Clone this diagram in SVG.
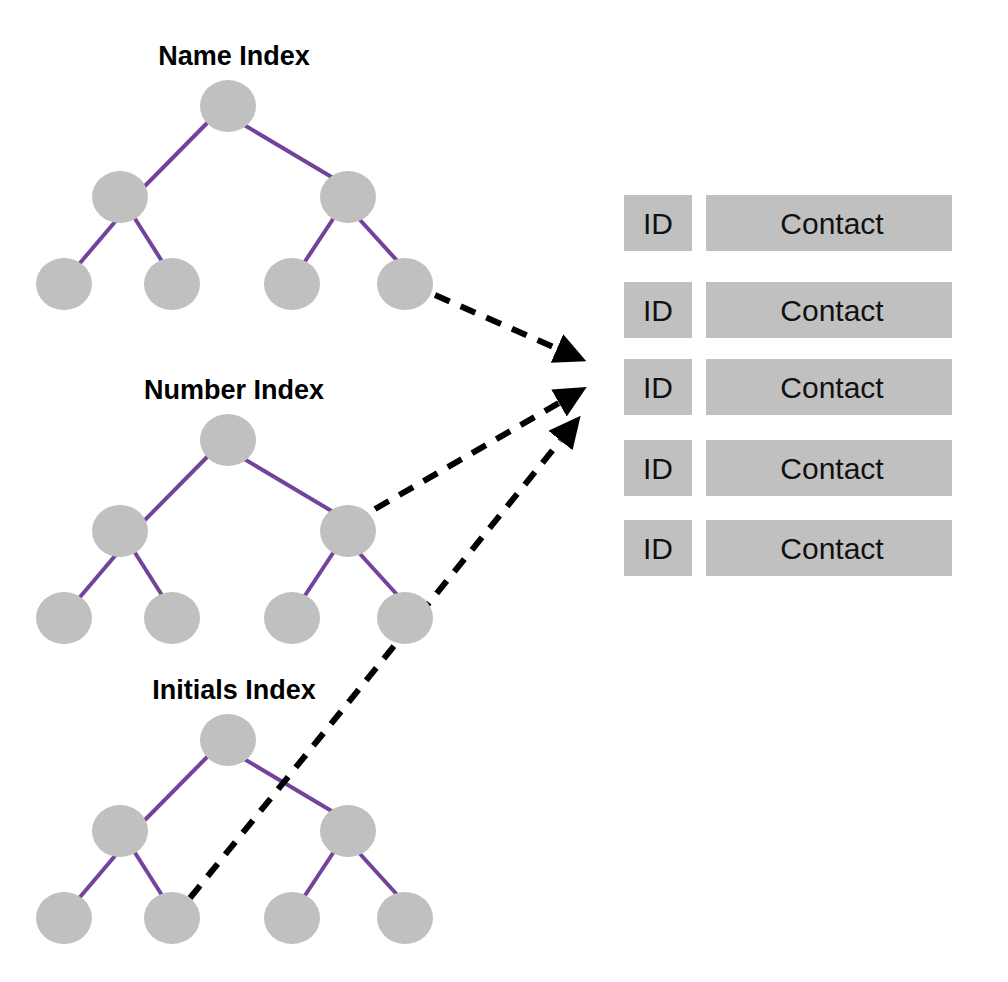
<svg xmlns="http://www.w3.org/2000/svg" width="1008" height="982" viewBox="0 0 1008 982">
<style>
.bg{fill:#ffffff}
.node{fill:#c0c0c0}
.edge{stroke:#73439b;stroke-width:4;fill:none}
.dash{stroke:#000;stroke-width:6;fill:none;stroke-dasharray:16 12}
.title{font-family:"Liberation Sans",Arial,sans-serif;font-weight:bold;font-size:27px;fill:#000;text-anchor:middle}
.cell{fill:#c0c0c0}
.ct{font-family:"Liberation Sans",Arial,sans-serif;font-size:30px;fill:#111;text-anchor:middle}
</style>
<defs>
<marker id="ah" markerUnits="userSpaceOnUse" markerWidth="34" markerHeight="32" refX="0" refY="15.5" orient="auto" viewBox="0 0 34 32">
<path d="M0,0 L32,15.5 L0,31 Z" fill="#000"/>
</marker>
<g id="treeEdges">
<line x1="214" y1="116" x2="138" y2="193"/>
<line x1="240" y1="122.5" x2="340" y2="182"/>
<line x1="117" y1="219.5" x2="76" y2="267.7"/>
<line x1="132" y1="214" x2="165" y2="266"/>
<line x1="336" y1="214.5" x2="302" y2="266"/>
<line x1="356" y1="215.5" x2="401" y2="265"/>
</g>
</defs>
<rect class="bg" x="0" y="0" width="1008" height="982"/>

<g id="titles">
<text class="title" x="234" y="65">Name Index</text>
<text class="title" x="234" y="399">Number Index</text>
<text class="title" x="234" y="699">Initials Index</text>
</g>

<g id="connectors">
<g class="edge" id="name-edges"><use href="#treeEdges"/></g>
<g class="edge" id="number-edges" transform="translate(0,334)"><use href="#treeEdges"/></g>
<g class="edge" id="initials-edges" transform="translate(0,634)"><use href="#treeEdges"/></g>
<path id="arrow-name" class="dash" d="M435,295 L557,348.5" marker-end="url(#ah)"/>
<path id="arrow-number" class="dash" d="M375,509 L559,403" marker-end="url(#ah)"/>
<path id="arrow-initials" class="dash" d="M190,898 L560.5,440.5" marker-end="url(#ah)"/>
</g>

<g id="name-tree">
<g id="name-root"><ellipse class="node" cx="228" cy="106" rx="28" ry="26"/></g>
<g id="name-l"><ellipse class="node" cx="120" cy="197" rx="28" ry="26"/></g>
<g id="name-r"><ellipse class="node" cx="348" cy="197" rx="28" ry="26"/></g>
<g id="name-ll"><ellipse class="node" cx="64" cy="284" rx="28" ry="26"/></g>
<g id="name-lr"><ellipse class="node" cx="172" cy="284" rx="28" ry="26"/></g>
<g id="name-rl"><ellipse class="node" cx="292" cy="284" rx="28" ry="26"/></g>
<g id="name-rr"><ellipse class="node" cx="405" cy="284" rx="28" ry="26"/></g>
</g>

<g id="number-tree">
<g id="number-root"><ellipse class="node" cx="228" cy="440" rx="28" ry="26"/></g>
<g id="number-l"><ellipse class="node" cx="120" cy="531" rx="28" ry="26"/></g>
<g id="number-r"><ellipse class="node" cx="348" cy="531" rx="28" ry="26"/></g>
<g id="number-ll"><ellipse class="node" cx="64" cy="618" rx="28" ry="26"/></g>
<g id="number-lr"><ellipse class="node" cx="172" cy="618" rx="28" ry="26"/></g>
<g id="number-rl"><ellipse class="node" cx="292" cy="618" rx="28" ry="26"/></g>
<g id="number-rr"><ellipse class="node" cx="405" cy="618" rx="28" ry="26"/></g>
</g>

<g id="initials-tree">
<g id="initials-root"><ellipse class="node" cx="228" cy="740" rx="28" ry="26"/></g>
<g id="initials-l"><ellipse class="node" cx="120" cy="831" rx="28" ry="26"/></g>
<g id="initials-r"><ellipse class="node" cx="348" cy="831" rx="28" ry="26"/></g>
<g id="initials-ll"><ellipse class="node" cx="64" cy="918" rx="28" ry="26"/></g>
<g id="initials-lr"><ellipse class="node" cx="172" cy="918" rx="28" ry="26"/></g>
<g id="initials-rl"><ellipse class="node" cx="292" cy="918" rx="28" ry="26"/></g>
<g id="initials-rr"><ellipse class="node" cx="405" cy="918" rx="28" ry="26"/></g>
</g>

<g id="table">
<g id="row1">
<rect class="cell" x="624" y="195" width="68" height="56"/>
<rect class="cell" x="706" y="195" width="246" height="56"/>
<text class="ct" x="658" y="233.5">ID</text>
<text class="ct" x="832" y="233.5">Contact</text>
</g>
<g id="row2">
<rect class="cell" x="624" y="282" width="68" height="56"/>
<rect class="cell" x="706" y="282" width="246" height="56"/>
<text class="ct" x="658" y="320.5">ID</text>
<text class="ct" x="832" y="320.5">Contact</text>
</g>
<g id="row3">
<rect class="cell" x="624" y="359" width="68" height="56"/>
<rect class="cell" x="706" y="359" width="246" height="56"/>
<text class="ct" x="658" y="397.5">ID</text>
<text class="ct" x="832" y="397.5">Contact</text>
</g>
<g id="row4">
<rect class="cell" x="624" y="440" width="68" height="56"/>
<rect class="cell" x="706" y="440" width="246" height="56"/>
<text class="ct" x="658" y="478.5">ID</text>
<text class="ct" x="832" y="478.5">Contact</text>
</g>
<g id="row5">
<rect class="cell" x="624" y="520" width="68" height="56"/>
<rect class="cell" x="706" y="520" width="246" height="56"/>
<text class="ct" x="658" y="558.5">ID</text>
<text class="ct" x="832" y="558.5">Contact</text>
</g>
</g>
</svg>
